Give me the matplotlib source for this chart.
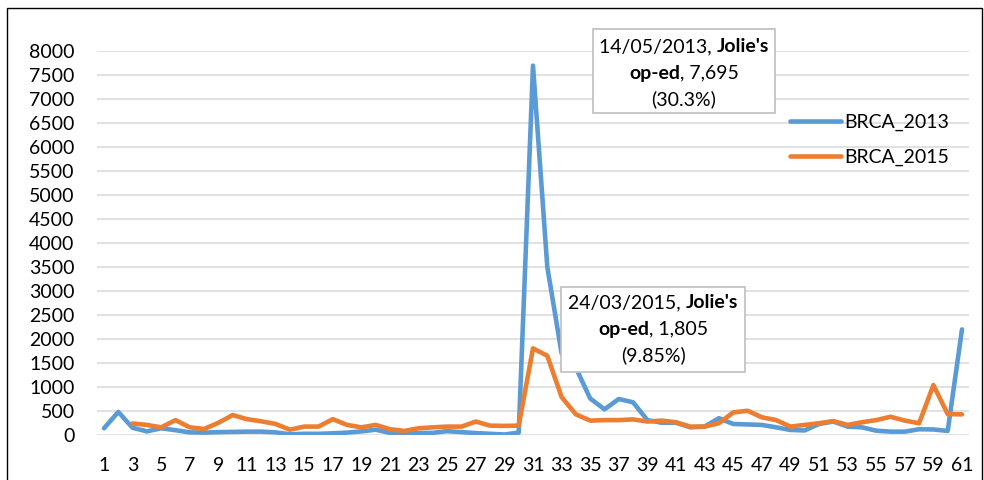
import numpy as np
import matplotlib
matplotlib.use("Agg")
import matplotlib.pyplot as plt
from matplotlib.patches import Rectangle
from matplotlib.offsetbox import TextArea, HPacker, AnnotationBbox

# ---------------- data ----------------
days = list(range(1, 62))
brca_2013 = [140, 480, 150, 75, 140, 100, 55, 50, 60, 65,
             70, 70, 55, 15, 25, 25, 35, 50, 75, 110,
             45, 30, 40, 45, 80, 60, 40, 25, 10, 50,
             7695, 3500, 1700, 1400, 760, 535, 750, 680, 310, 255,
             255, 160, 175, 350, 230, 220, 210, 160, 105, 95,
             230, 280, 175, 160, 90, 70, 70, 120, 115, 85,
             2200]
brca_2015 = [np.nan, np.nan, 240, 210, 160, 310, 160, 125, 255, 415,
             330, 285, 230, 110, 175, 175, 330, 210, 160, 210,
             120, 85, 140, 160, 175, 175, 280, 195, 190, 195,
             1805, 1650, 790, 430, 300, 310, 310, 325, 280, 300,
             265, 175, 175, 245, 470, 505, 370, 310, 175, 210,
             245, 290, 210, 265, 310, 380, 300, 245, 1040, 435,
             430]
series_labels = ["BRCA_2013", "BRCA_2015"]
y_ticks = list(range(0, 8001, 500))
x_ticks = list(range(1, 62, 2))

note_2013 = [[("14/05/2013, ", "normal"), ("Jolie's", "bold")],
             [("op-ed", "bold"), (", 7,695", "normal")],
             [("(30.3%)", "normal")]]
note_2015 = [[("24/03/2015, ", "normal"), ("Jolie's", "bold")],
             [("op-ed", "bold"), (", 1,805", "normal")],
             [("(9.85%)", "normal")]]

# ---------------- style ----------------
FONT = "Lato"
FS = 14
plt.rcParams["font.family"] = [FONT, "DejaVu Sans"]
W, H = 984, 480
fig = plt.figure(figsize=(W / 100, H / 100), dpi=100)
fig.patch.set_facecolor("white")

ax_left, ax_right, ax_top, ax_bottom = 96.85, 969.15, 51, 435
ax = fig.add_axes([ax_left / W, 1 - ax_bottom / H,
                   (ax_right - ax_left) / W, (ax_bottom - ax_top) / H])

blue = "#5B9BD5"
orange = "#ED7D31"
ax.plot(days, brca_2013, color=blue, lw=3.3, label=series_labels[0],
        solid_joinstyle="round", solid_capstyle="round", zorder=3)
ax.plot(days, brca_2015, color=orange, lw=3.3, label=series_labels[1],
        solid_joinstyle="round", solid_capstyle="round", zorder=3)

ax.set_xlim(0.5, 61.5)
ax.set_ylim(0, 8000)
ax.set_yticks(y_ticks)
ax.set_xticks(x_ticks)
ax.set_xticklabels([str(t) for t in x_ticks])
ax.set_yticklabels([str(t) for t in y_ticks])
ax.grid(axis="y", color="#d9d9d9", lw=1.1, zorder=0)
ax.set_axisbelow(True)
for s in ax.spines.values():
    s.set_visible(False)
ax.tick_params(axis="both", length=0, labelsize=FS, colors="black")
ax.tick_params(axis="y", pad=16)
ax.tick_params(axis="x", pad=16)

leg = ax.legend(loc="upper left", bbox_to_anchor=(790 / W, 1 - 114 / H),
                bbox_transform=fig.transFigure, frameon=False, fontsize=FS,
                handlelength=2.6, handletextpad=0.2, labelspacing=0.9,
                borderpad=0, borderaxespad=0)


def boxed_note(lines, x0, y0, x1, y1, line_ys):
    rect = Rectangle((x0 / W, 1 - y1 / H), (x1 - x0) / W, (y1 - y0) / H,
                     transform=fig.transFigure, facecolor="white",
                     edgecolor="#bfbfbf", lw=1.2, zorder=5)
    fig.add_artist(rect)
    cx = (x0 + x1) / 2
    for parts, ly in zip(lines, line_ys):
        children = [TextArea(t, textprops=dict(fontsize=FS, fontweight=wt,
                                               family=[FONT, "DejaVu Sans"],
                                               color="black"))
                    for t, wt in parts]
        hp = HPacker(children=children, align="baseline", pad=0, sep=0)
        ab = AnnotationBbox(hp, (cx, H - ly), xycoords="figure pixels",
                            frameon=False, box_alignment=(0.5, 0.5), pad=0,
                            zorder=6)
        fig.add_artist(ab)


boxed_note(note_2013, 593, 29, 775, 113, [47, 73, 99])
boxed_note(note_2015, 561, 287, 745, 372, [303, 329, 355])

# outer chart frame
frame = Rectangle((7 / W, -0.02), (982 - 7) / W, 1.02 - 8 / H,
                  transform=fig.transFigure, fill=False, edgecolor="black",
                  lw=1.0, zorder=10)
fig.add_artist(frame)

fig.savefig("out.png", dpi=100)
